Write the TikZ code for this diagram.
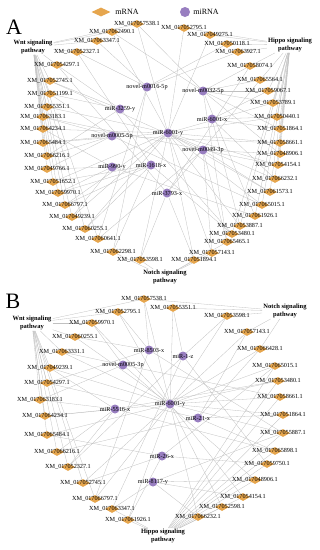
\documentclass[tikz,border=0pt]{standalone}
\usepackage{fontspec}
\setmainfont{Liberation Serif}
\usetikzlibrary{shapes.geometric,backgrounds}
\definecolor{mrnaorange}{RGB}{230,166,78}
\definecolor{mirnapurple}{RGB}{152,126,192}
\definecolor{linkgray}{RGB}{192,192,192}

\begin{document}
\begin{tikzpicture}[x=1pt, y=-1pt,
    mrna/.style={diamond, fill=mrnaorange, minimum width=14pt, minimum height=8pt, inner sep=0pt},
    mirna/.style={circle, fill=mirnapurple, minimum size=9pt, inner sep=0pt},
    lbl/.style={font=\fontsize{6.2}{6.2}\selectfont, inner sep=0pt},
    xm/.style={mrna, label={[lbl]center:XM\_0170#1.1}},
    mir/.style={mirna, label={[lbl]center:#1}},
    sigpath/.style={font=\bfseries\fontsize{6.5}{7.5}\selectfont, align=center, inner sep=1pt},
    link/.style={draw=linkgray, line width=0.3pt},
    panel/.style={font=\fontsize{22}{22}\selectfont, inner sep=0pt},
    legend/.style={font=\fontsize{8}{8}\selectfont, inner sep=0pt}
  ]
    \useasboundingbox (0,0) rectangle (320,550);

    % Legend
    \node[mrna, minimum width=19pt, minimum height=9pt] (legmrna) at (101,12) {};
    \node[legend] (legmrnatxt) at (127,12) {mRNA};
    \node[mirna, minimum size=10pt] (legmirna) at (185,12) {};
    \node[legend] (legmirnatxt) at (206,12) {miRNA};

    % Panel letters
    \node[panel] (letterA) at (14,27) {A};
    \node[panel] (letterB) at (13,301) {B};

    % ---------------- Panel A ----------------
    % Pathways
    \node[sigpath] (Awnt) at (33,47) {Wnt signaling\\pathway};
    \node[sigpath] (Ahippo) at (290,45) {Hippo signaling\\pathway};
    \node[sigpath] (Anotch) at (165,277) {Notch signaling\\pathway};

    % mRNAs, left arc
    \node[xm=57538] (A57538) at (137,24) {};
    \node[xm=62490] (A62490) at (112,32) {};
    \node[xm=63347] (A63347) at (97,41) {};
    \node[xm=52327] (A52327) at (77,52) {};
    \node[xm=54297] (A54297) at (57,65) {};
    \node[xm=52745] (A52745) at (50,81) {};
    \node[xm=51199] (A51199) at (50,94) {};
    \node[xm=55351] (A55351) at (47,107) {};
    \node[xm=63183] (A63183) at (43,117) {};
    \node[xm=64234] (A64234) at (43,129) {};
    \node[xm=65484] (A65484) at (43,143) {};
    \node[xm=66216] (A66216) at (47,156) {};
    \node[xm=49766] (A49766) at (47,169) {};
    \node[xm=51652] (A51652) at (53,182) {};
    \node[xm=59970] (A59970) at (58,193) {};
    \node[xm=66797] (A66797) at (65,205) {};
    \node[xm=49239] (A49239) at (72,217) {};
    \node[xm=60255] (A60255) at (85,229) {};
    \node[xm=60641] (A60641) at (98,239) {};
    \node[xm=62298] (A62298) at (113,252) {};
    \node[xm=53598] (A53598) at (140,260) {};
    % mRNAs, right arc
    \node[xm=52795] (A52795) at (184,28) {};
    \node[xm=49275] (A49275) at (210,35) {};
    \node[xm=50118] (A50118) at (227,44) {};
    \node[xm=63927] (A63927) at (238,52) {};
    \node[xm=58074] (A58074) at (250,66) {};
    \node[xm=65564] (A65564) at (260,80) {};
    \node[xm=59067] (A59067) at (268,91) {};
    \node[xm=53789] (A53789) at (273,103) {};
    \node[xm=50440] (A50440) at (277,117) {};
    \node[xm=51864] (A51864) at (280,129) {};
    \node[xm=58661] (A58661) at (280,143) {};
    \node[xm=48906] (A48906) at (280,154) {};
    \node[xm=54154] (A54154) at (278,165) {};
    \node[xm=66232] (A66232) at (275,179) {};
    \node[xm=61573] (A61573) at (270,192) {};
    \node[xm=65015] (A65015) at (262,205) {};
    \node[xm=61926] (A61926) at (255,216) {};
    \node[xm=53887] (A53887) at (240,226) {};
    \node[xm=53480] (A53480) at (232,234) {};
    \node[xm=65465] (A65465) at (227,242) {};
    \node[xm=57143] (A57143) at (212,253) {};
    \node[xm=51894] (A51894) at (194,260) {};

    % miRNAs
    \node[mir=novel-m0016-5p] (Anov0016) at (147,87) {};
    \node[mir=novel-m0032-5p] (Anov0032) at (203,91) {};
    \node[mir=miR-3259-y] (Amir3259) at (120,109) {};
    \node[mir=miR-6001-x] (Amir6001x) at (212,119) {};
    \node[mir=novel-m0005-5p] (Anov0005) at (112,136) {};
    \node[mir=miR-6001-y] (Amir6001y) at (168,133) {};
    \node[mir=novel-m0049-3p] (Anov0049) at (203,150) {};
    \node[mir=miR-990-y] (Amir990) at (112,167) {};
    \node[mir=miR-1618-x] (Amir1618) at (151,165) {};
    \node[mir=miR-3793-x] (Amir3793) at (167,193) {};

    % ---------------- Panel B ----------------
    % Pathways
    \node[sigpath] (Bwnt) at (32,323) {Wnt signaling\\pathway};
    \node[sigpath] (Bnotch) at (285,311) {Notch signaling\\pathway};
    \node[sigpath] (Bhippo) at (163,536) {Hippo signaling\\pathway};

    % mRNAs, left arc
    \node[xm=57538] (B57538) at (144,299) {};
    \node[xm=52795] (B52795) at (118,312) {};
    \node[xm=59970] (B59970) at (92,323) {};
    \node[xm=60255] (B60255) at (75,337) {};
    \node[xm=63331] (B63331) at (62,352) {};
    \node[xm=49239] (B49239) at (50,368) {};
    \node[xm=54297] (B54297) at (47,383) {};
    \node[xm=63183] (B63183) at (40,400) {};
    \node[xm=64234] (B64234) at (45,416) {};
    \node[xm=65484] (B65484) at (47,435) {};
    \node[xm=66216] (B66216) at (57,452) {};
    \node[xm=52327] (B52327) at (68,467) {};
    \node[xm=52745] (B52745) at (83,483) {};
    \node[xm=66797] (B66797) at (95,499) {};
    \node[xm=63347] (B63347) at (112,509) {};
    \node[xm=61926] (B61926) at (128,520) {};
    % mRNAs, right arc
    \node[xm=55351] (B55351) at (173,308) {};
    \node[xm=53598] (B53598) at (227,316) {};
    \node[xm=57143] (B57143) at (247,332) {};
    \node[xm=66428] (B66428) at (260,349) {};
    \node[xm=65015] (B65015) at (275,366) {};
    \node[xm=53480] (B53480) at (278,381) {};
    \node[xm=58661] (B58661) at (280,397) {};
    \node[xm=51864] (B51864) at (283,415) {};
    \node[xm=55887] (B55887) at (283,433) {};
    \node[xm=65898] (B65898) at (275,451) {};
    \node[xm=59750] (B59750) at (267,464) {};
    \node[xm=48906] (B48906) at (255,480) {};
    \node[xm=54154] (B54154) at (243,497) {};
    \node[xm=52598] (B52598) at (222,507) {};
    \node[xm=66232] (B66232) at (198,517) {};

    % miRNAs
    \node[mir=miR-8503-x] (Bmir8503) at (149,350) {};
    \node[mir=miR-1-z] (Bmir1) at (183,356) {};
    \node[mir=novel-m0005-3p] (Bnov0005) at (123,365) {};
    \node[mir=miR-6001-y] (Bmir6001y) at (170,404) {};
    \node[mir=miR-5516-x] (Bmir5516) at (115,409) {};
    \node[mir=miR-21-x] (Bmir21) at (198,418) {};
    \node[mir=miR-26-x] (Bmir26) at (162,456) {};
    \node[mir=miR-8117-y] (Bmir8117) at (153,482) {};

    % Links
    \begin{scope}[on background layer]
      % pathway links A
      \foreach \m in {57538,62490,63347,52327,54297,52745,51199,55351,63183,64234,65484,66216,49766,51652,59970,66797,49239,60255,60641}
        \draw[link] (Awnt) -- (A\m);
      \foreach \m in {52795,49275,50118,63927,58074,65564,59067,53789,50440,51864,58661,48906,54154,66232,61573,65015,61926,53887,53480}
        \draw[link] (Ahippo) -- (A\m);
      \foreach \m in {62298,53598,51894,57143,65465}
        \draw[link] (Anotch) -- (A\m);
      % miRNA links A
      \foreach \r/\lst in {
          mir6001y/{57538,62490,52795,49275,55351,64234,65484,53789,50440,58661,54154,66232,61573,65015,53887,60255,49239,51652,66797,57143,51894,53598},
          nov0016/{63347,52327,50118,63927,60641,62298},
          nov0032/{57538,62490,58074,65564,59067,53789,51864,48906,61926,65465},
          mir3259/{54297,52745,51199,66216,53480},
          mir6001x/{59067,50440,51864,66232,53887},
          nov0005/{51199,63183,65484,66216,49766,58661,65015},
          nov0049/{52745,63183,48906,54154,61573,65465,57143,60641},
          mir990/{64234,49766,59970,49239,61926},
          mir1618/{52327,51652,59970,66797,60255,62298,53480},
          mir3793/{54297,65564,51894,53598,58074}}
        \foreach \m in \lst
          \draw[link] (A\r) -- (A\m);

      % pathway links B
      \foreach \m in {57538,52795,59970,60255,63331,49239,54297,63183,64234,65484,66216,52327,52745,66797}
        \draw[link] (Bwnt) -- (B\m);
      \foreach \m in {61926,63347,66232,52598,54154,48906,59750,65898,55887,51864,58661,53480,65015}
        \draw[link] (Bhippo) -- (B\m);
      \foreach \m in {53598,57143,66428,55351,57538}
        \draw[link] (Bnotch) -- (B\m);
      % miRNA links B
      \foreach \r/\lst in {
          mir6001y/{57538,55351,52795,59970,53598,57143,66428,65015,53480,58661,51864,55887,63331,49239,64234,65484,52745,66797,54154,52598,66232,61926,60255},
          mir8503/{57538,52795,60255,54297,55887,66797},
          mir1/{55351,53598,59750,63347,52327},
          nov0005/{59970,63331,63183,58661,48906},
          mir5516/{49239,63183,64234,66216,53480,65898,52327},
          mir21/{57143,66428,51864,65898,54297,66216},
          mir26/{65015,65484,52745,59750,61926},
          mir8117/{55887,48906,63347,54154,66232}}
        \foreach \m in \lst
          \draw[link] (B\r) -- (B\m);
    \end{scope}
  \end{tikzpicture}
\end{document}
